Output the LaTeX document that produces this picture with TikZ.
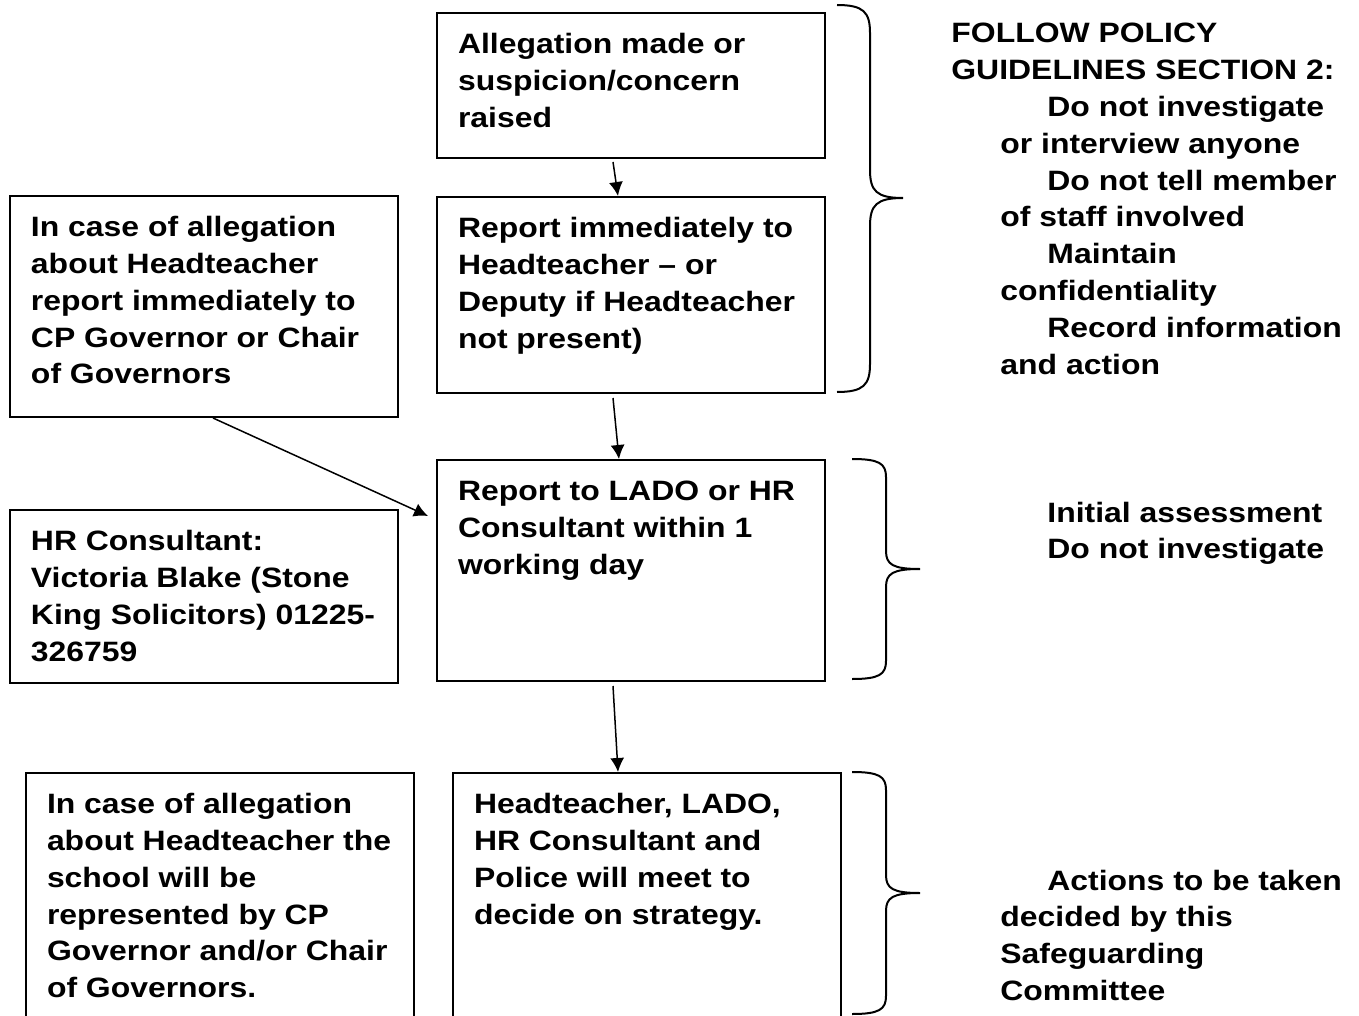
\documentclass[tikz,border=0pt]{standalone}
\usepackage{fontspec}
\setmainfont{Liberation Sans}[FakeStretch=1.14]
\usetikzlibrary{arrows.meta}
\newcommand{\flowfont}{\fontsize{14pt}{18.4pt}\selectfont\bfseries}
\newcommand{\boxlines}[3]{%
    \vbox to \dimexpr#2pt/2\relax{\vskip 7.5pt
      \hbox to \dimexpr#1pt/2\relax{\hskip 10.5pt\begin{tabular}[t]{@{}l@{}}#3\end{tabular}\hss}\vfil}%
}
\newcommand{\sidebrace}[6]{%
    \draw[curly] (#1,#2) .. controls (#1+0.8*#6,#2) and (#1+#6,#2+0.25*#5) .. (#1+#6,#2+#5)
      -- (#1+#6,#4-#5) .. controls (#1+#6,#4-0.25*#5) and (#1+1.2*#6,#4) .. (#1+2*#6,#4)
      .. controls (#1+1.2*#6,#4) and (#1+#6,#4+0.25*#5) .. (#1+#6,#4+#5)
      -- (#1+#6,#3-#5) .. controls (#1+#6,#3-0.25*#5) and (#1+0.8*#6,#3) .. (#1,#3);
}
\tikzset{>={Latex[length=7pt,width=7pt]}}
\tikzset{
    flowbox/.style={draw, line width=1pt, anchor=north west, inner sep=0pt, font=\flowfont},
    note/.style={anchor=base west, inner sep=0pt, font=\flowfont},
    link/.style={->, line width=0.75pt},
    curly/.style={line width=1pt},
}

\begin{document}
\begin{tikzpicture}[x=0.5pt,y=-0.5pt]
    \useasboundingbox (0,0) rectangle (1359,1016);
    \clip (0,0) rectangle (1359,1016);

    \node[flowbox] (alleg) at (436,12) {\boxlines{388}{145}{Allegation made or\\ suspicion/concern\\ raised}};
    \node[flowbox] (report) at (436,196) {\boxlines{388}{196}{Report immediately to\\ Headteacher -- or\\ Deputy if Headteacher\\ not present)}};
    \node[flowbox] (lado) at (436,459) {\boxlines{388}{221}{Report to LADO or HR\\ Consultant within 1\\ working day}};
    \node[flowbox] (meet) at (452,772) {\boxlines{388}{248}{Headteacher, LADO,\\ HR Consultant and\\ Police will meet to\\ decide on strategy.}};

    \node[flowbox] (headcase) at (9,195) {\boxlines{388}{221}{In case of allegation\\ about Headteacher\\ report immediately to\\ CP Governor or Chair\\ of Governors}};
    \node[flowbox] (hrcons) at (9,509) {\boxlines{388}{173}{HR Consultant:\\ Victoria Blake (Stone\\ King Solicitors) 01225-\\ 326759}};
    \node[flowbox] (repcase) at (25,772) {\boxlines{388}{248}{In case of allegation\\ about Headteacher the\\ school will be\\ represented by CP\\ Governor and/or Chair\\ of Governors.}};

    \draw[link] ([xshift=-9pt,yshift=-1.5pt]alleg.south) -- ([xshift=-6.5pt]report.north);
    \draw[link] ([xshift=-9pt,yshift=-2pt]report.south) -- ([xshift=-6pt]lado.north);
    \draw[link] ([xshift=-9pt,yshift=-2pt]lado.south) -- ([xshift=-14.5pt]meet.north);
    \draw[link] ([xshift=4.5pt]headcase.south) -- ([xshift=-4pt,yshift=-28.5pt]lado.north west);

    \sidebrace{837}{5}{392}{198}{28}{33}
    \sidebrace{852}{459}{679}{569}{18}{34}
    \sidebrace{852}{772}{1014}{893}{18}{34}

    \node[note] (policy) at (951,43) {\begin{tabular}[t]{@{}l@{}}FOLLOW POLICY\\ GUIDELINES SECTION 2:\\
        \hspace*{48pt}Do not investigate\\ \hspace*{24.5pt}or interview anyone\\
        \hspace*{48pt}Do not tell member\\ \hspace*{24.5pt}of staff involved\\
        \hspace*{48pt}Maintain\\ \hspace*{24.5pt}confidentiality\\
        \hspace*{48pt}Record information\\ \hspace*{24.5pt}and action\end{tabular}};
    \node[note] (assess) at (1047,522) {\begin{tabular}[t]{@{}l@{}}Initial assessment\\ Do not investigate\end{tabular}};
    \node[note] (actions) at (1000,890) {\begin{tabular}[t]{@{}l@{}}\hspace*{23.5pt}Actions to be taken\\ decided by this\\ Safeguarding\\ Committee\end{tabular}};
\end{tikzpicture}
\end{document}
